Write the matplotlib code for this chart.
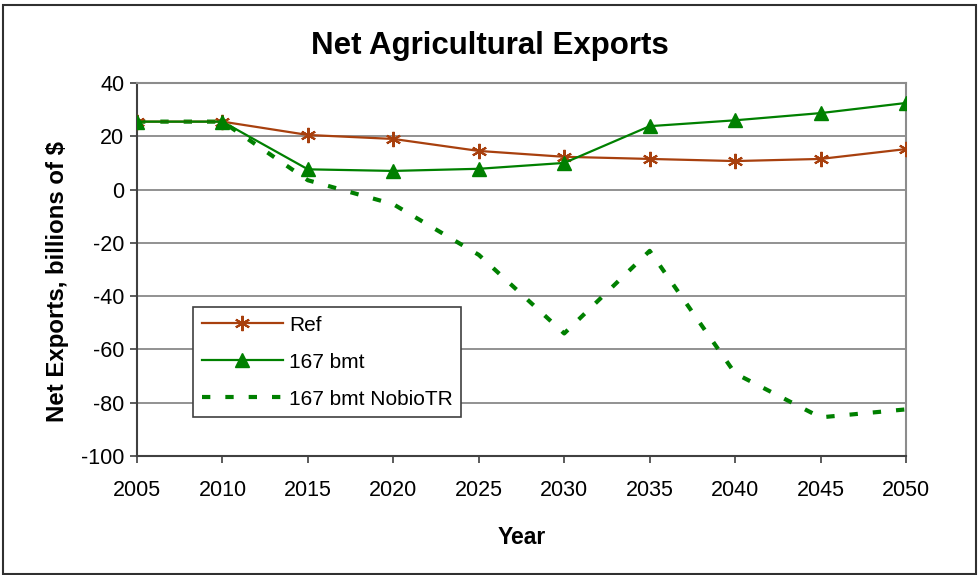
import matplotlib
matplotlib.use("Agg")
import matplotlib.pyplot as plt
from matplotlib.patches import Rectangle
from matplotlib.lines import Line2D

plt.rcParams['font.family'] = ['Liberation Sans', 'DejaVu Sans']
plt.rcParams['axes.unicode_minus'] = False

years = [2005, 2010, 2015, 2020, 2025, 2030, 2035, 2040, 2045, 2050]
ref = [25.5, 25.5, 20.5, 19.0, 14.5, 12.3, 11.5, 10.7, 11.5, 15.2]
bmt167 = [25.5, 25.5, 7.6, 7.0, 7.8, 10.0, 23.8, 26.0, 28.7, 32.5]
nobio = [25.5, 25.5, 3.5, -5.5, -24.5, -54.0, -23.0, -69.0, -85.5, -82.5]
yticks = list(range(-100, 41, 20))

ref_color = '#A8400E'
green = '#008000'

W, H = 979, 575
fig = plt.figure(figsize=(W / 100, H / 100), dpi=100)
ax = fig.add_axes([137 / W, 1 - 456 / H, (906 - 137) / W, (456 - 83) / H])

# outer border
fig.patches.append(Rectangle((3 / W, 1 / H), (976 - 3) / W, (570 - 1) / H,
                             transform=fig.transFigure, fill=False,
                             edgecolor='#303030', linewidth=1.5))

ax.set_xlim(2005, 2050)
ax.set_ylim(-100, 40)
ax.set_yticks(yticks)
ax.set_xticks(years)
ax.yaxis.grid(True, color='#7f7f7f', linewidth=1.2)
ax.set_axisbelow(True)

for s in ['top', 'right']:
    ax.spines[s].set_color('#8c8c8c')
    ax.spines[s].set_linewidth(1.5)
for s in ['left', 'bottom']:
    ax.spines[s].set_color('#404040')
    ax.spines[s].set_linewidth(1.5)

ax.tick_params(axis='both', direction='out', length=5, width=1.2,
               color='#404040', labelsize=15.5, pad=4)
ax.tick_params(axis='x', pad=12)

lw_dash = 3.0
dash_style = (0, (2, 3.6))

ax.plot(years, nobio, color=green, linewidth=lw_dash, linestyle=dash_style,
        dash_capstyle='butt', zorder=3)
ax.plot(years, ref, color=ref_color, linewidth=1.6, marker=(6, 2, 0), markersize=11,
        markeredgecolor=ref_color, markeredgewidth=1.5, zorder=4)
ax.plot(years, bmt167, color=green, linewidth=1.6, marker='^', markersize=10,
        markerfacecolor=green, markeredgecolor=green, zorder=6)

fig.text(0.5, 1 - 46 / H, 'Net Agricultural Exports', fontsize=22.5,
         fontweight='bold', ha='center', va='center')
ax.set_xlabel('Year', fontsize=16.5, fontweight='bold', labelpad=18)
ax.set_ylabel('Net Exports, billions of $', fontsize=17.3, fontweight='bold')
ax.yaxis.set_label_coords((69 - 137) / 769, (456 - 281) / 373)

handles = [
    Line2D([], [], color=ref_color, linewidth=1.6, marker=(6, 2, 0), markersize=11,
           markeredgecolor=ref_color, markeredgewidth=1.5),
    Line2D([], [], color=green, linewidth=1.6, marker='^', markersize=10),
    Line2D([], [], color=green, linewidth=lw_dash, linestyle=dash_style,
           dash_capstyle='butt'),
]
leg = ax.legend(handles, ['Ref', '167 bmt', '167 bmt NobioTR'],
                loc='upper left', bbox_to_anchor=(193 / W, 1 - 307 / H),
                bbox_transform=fig.transFigure, borderaxespad=0,
                fontsize=15.0, handlelength=3.9, handletextpad=0.28,
                labelspacing=0.86, fancybox=False, framealpha=1,
                edgecolor='#404040', borderpad=0.42)
leg.get_frame().set_linewidth(1.2)

fig.savefig('out.png', dpi=100)
